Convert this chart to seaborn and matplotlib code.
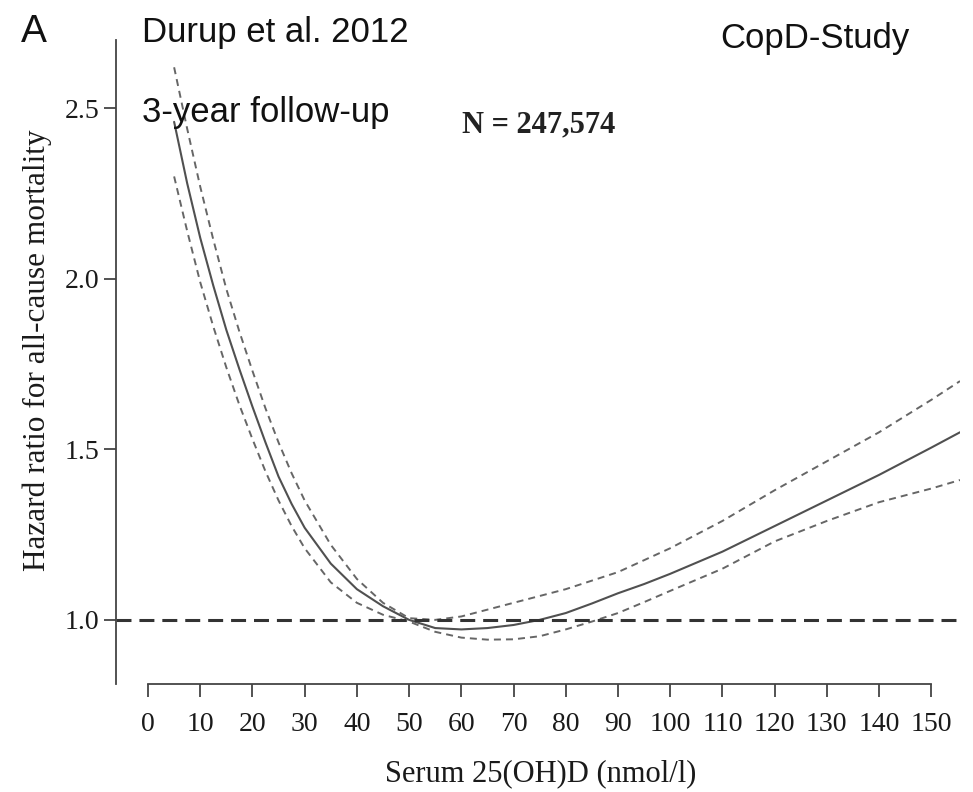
import matplotlib
matplotlib.use("Agg")
import matplotlib.pyplot as plt
import seaborn as sns
import pandas as pd

# ---- data ----
serum_x = [5, 7.5, 10, 12.5, 15, 17.5, 20, 22.5, 25, 27.5, 30, 35, 40, 45, 50, 55, 60,
           65, 70, 75, 80, 85, 90, 95, 100, 110, 120, 130, 140, 150, 155.5]
hr_main = [2.46, 2.28, 2.12, 1.98, 1.85, 1.735, 1.625, 1.52, 1.42, 1.34, 1.27, 1.165,
           1.09, 1.04, 1.0, 0.976, 0.972, 0.976, 0.985, 1.0, 1.02, 1.048, 1.078,
           1.105, 1.135, 1.2, 1.275, 1.35, 1.425, 1.505, 1.55]
hr_upper = [2.62, 2.44, 2.27, 2.115, 1.97, 1.845, 1.73, 1.62, 1.52, 1.43, 1.35, 1.22,
            1.12, 1.05, 1.005, 1.0, 1.01, 1.03, 1.05, 1.07, 1.09, 1.115, 1.14, 1.175,
            1.21, 1.29, 1.38, 1.465, 1.55, 1.645, 1.70]
hr_lower = [2.30, 2.14, 1.99, 1.86, 1.74, 1.63, 1.53, 1.435, 1.35, 1.275, 1.21, 1.11,
            1.05, 1.015, 0.995, 0.965, 0.948, 0.942, 0.943, 0.952, 0.972, 0.995,
            1.02, 1.052, 1.085, 1.15, 1.23, 1.29, 1.345, 1.385, 1.41]
ref_x = [-6.2, 155.5]
ref_y = [1.0, 1.0]
x_ticks = list(range(0, 151, 10))
y_ticks = [1.0, 1.5, 2.0, 2.5]
y_tick_labels = ["1.0", "1.5", "2.0", "2.5"]

df = pd.DataFrame({"x": serum_x, "main": hr_main, "upper": hr_upper, "lower": hr_lower})

sns.set_style("ticks")
plt.rcParams["font.family"] = ["Liberation Serif", "DejaVu Serif"]

W, H = 973, 792
fig = plt.figure(figsize=(W / 100, H / 100), dpi=100)
ax = fig.add_axes([116 / W, 108 / H, 844 / W, 644 / H])

sns.lineplot(data=df, x="x", y="main", ax=ax, color="#505050", linewidth=1.5)
sns.lineplot(data=df, x="x", y="upper", ax=ax, color="#666666", linewidth=1.4,
             linestyle=(0, (3.6, 2.6)))
sns.lineplot(data=df, x="x", y="lower", ax=ax, color="#666666", linewidth=1.4,
             linestyle=(0, (3.6, 2.6)))
ax.plot(ref_x, ref_y, color="#333333", linewidth=2.2, linestyle=(0, (4.9, 2.6)))

ax.set_xlim(-6.13, 155.5)
ax.set_ylim(0.812, 2.70)

for s in ["top", "right"]:
    ax.spines[s].set_visible(False)
for s in ["left", "bottom"]:
    ax.spines[s].set_color("#444444")
    ax.spines[s].set_linewidth(1.3)
ax.spines["bottom"].set_bounds(0, 150)

ax.set_xticks(x_ticks)
ax.set_xticklabels([str(t) for t in x_ticks])
ax.set_yticks(y_ticks)
ax.set_yticklabels(y_tick_labels)
ax.tick_params(axis="both", direction="out", colors="#444444", labelcolor="#1a1a1a",
               labelsize=20, width=1.3)
ax.tick_params(axis="x", length=9, pad=11)
ax.tick_params(axis="y", length=8.6, pad=3.6)

ax.set_xlabel("Serum 25(OH)D (nmol/l)", fontsize=22, color="#1a1a1a")
ax.xaxis.label.set_va("baseline")
ax.xaxis.set_label_coords((541 - 116) / 844, -(781 - 684) / 644)
ax.set_ylabel("Hazard ratio for all-cause mortality", fontsize=22.5, color="#1a1a1a")
ax.yaxis.label.set_va("center")
ax.yaxis.set_label_coords((37 - 116) / 844, (684 - 350) / 644)

sans = ["Liberation Sans", "DejaVu Sans"]
def ftext(px, py, s, **kw):
    fig.text(px / W, 1 - py / H, s, va="baseline", ha="left", **kw)

ftext(21, 42, "A", fontsize=28, family=sans, color="#111111")
ftext(142, 42, "Durup et al. 2012", fontsize=25, family=sans, color="#111111")
ftext(142, 122, "3-year follow-up", fontsize=25, family=sans, color="#111111")
ftext(720, 48, "CopD-Study", fontsize=25, family=sans, color="#111111")
ftext(462, 132, "N = 247,574", fontsize=22, fontweight="bold",
      family=["Liberation Serif", "DejaVu Serif"], color="#222222")

fig.savefig("out.png", dpi=100, facecolor="white")
